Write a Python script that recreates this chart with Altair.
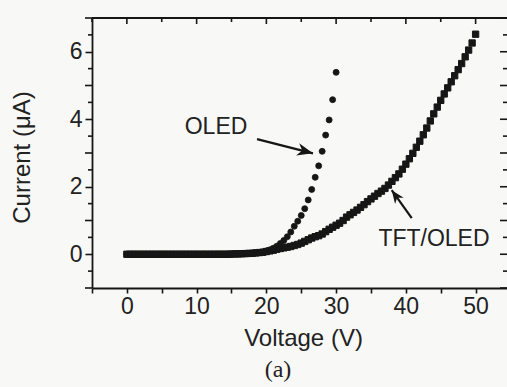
import math
import altair as alt
import pandas as pd

# ---------------- data ----------------
oled_v = [0.0, 0.5, 1.0, 1.5, 2.0, 2.5, 3.0, 3.5, 4.0, 4.5, 5.0, 5.5, 6.0, 6.5, 7.0, 7.5,
          8.0, 8.5, 9.0, 9.5, 10.0, 10.5, 11.0, 11.5, 12.0, 12.5, 13.0, 13.5, 14.0, 14.5,
          15.0, 15.5, 16.0, 16.5, 17.0, 17.5, 18.0, 18.5, 19.0, 19.5, 20.0, 20.5, 21.0,
          21.5, 22.0, 22.5, 23.0, 23.5, 24.0, 24.5, 25.0, 25.5, 26.0, 26.5, 27.0, 27.5,
          28.0, 28.5, 29.0, 29.5, 30.0]
oled_i = [0.0, 0.0, 0.0, 0.0, 0.0, 0.0, 0.0, 0.0, 0.0, 0.0, 0.0, 0.0, 0.0, 0.0, 0.0, 0.0,
          0.0, 0.0, 0.0, 0.0, 0.0, 0.0, 0.0, 0.0, 0.0, 0.0, 0.005, 0.005, 0.005, 0.01,
          0.01, 0.01, 0.01, 0.015, 0.02, 0.02, 0.03, 0.04, 0.05, 0.07, 0.10, 0.13, 0.18,
          0.24, 0.32, 0.41, 0.52, 0.66, 0.83, 0.98, 1.15, 1.35, 1.61, 1.92, 2.28, 2.62,
          3.05, 3.53, 3.98, 4.58, 5.39]

tft_v = [0.0, 0.5, 1.0, 1.5, 2.0, 2.5, 3.0, 3.5, 4.0, 4.5, 5.0, 5.5, 6.0, 6.5, 7.0, 7.5,
         8.0, 8.5, 9.0, 9.5, 10.0, 10.5, 11.0, 11.5, 12.0, 12.5, 13.0, 13.5, 14.0, 14.5,
         15.0, 15.5, 16.0, 16.5, 17.0, 17.5, 18.0, 18.5, 19.0, 19.5, 20.0, 20.5, 21.0,
         21.5, 22.0, 22.5, 23.0, 23.5, 24.0, 24.5, 25.0, 25.5, 26.0, 26.5, 27.0, 27.5,
         28.0, 28.5, 29.0, 29.5, 30.0, 30.5, 31.0, 31.5, 32.0, 32.5, 33.0, 33.5, 34.0,
         34.5, 35.0, 35.5, 36.0, 36.5, 37.0, 37.5, 38.0, 38.5, 39.0, 39.5, 40.0, 40.5,
         41.0, 41.5, 42.0, 42.5, 43.0, 43.5, 44.0, 44.5, 45.0, 45.5, 46.0, 46.5, 47.0,
         47.5, 48.0, 48.5, 49.0, 49.5, 50.0]
tft_i = [0.0, 0.0, 0.0, 0.0, 0.0, 0.0, 0.0, 0.0, 0.0, 0.0, 0.0, 0.0, 0.0, 0.0, 0.0, 0.0,
         0.0, 0.0, 0.0, 0.0, 0.0, 0.0, 0.0, 0.0, 0.0, 0.0, 0.0, 0.0, 0.0, 0.0,
         0.005, 0.01, 0.01, 0.015, 0.02, 0.025, 0.03, 0.04, 0.05, 0.06, 0.08, 0.10, 0.12,
         0.15, 0.17, 0.19, 0.21, 0.23, 0.26, 0.29, 0.33, 0.38, 0.43, 0.48, 0.52, 0.55,
         0.60, 0.67, 0.74, 0.80, 0.86, 0.92, 1.00, 1.10, 1.17, 1.24, 1.31, 1.39, 1.47,
         1.56, 1.64, 1.72, 1.80, 1.87, 1.95, 2.05, 2.16, 2.27, 2.38, 2.52, 2.67, 2.83,
         2.99, 3.17, 3.35, 3.54, 3.74, 3.95, 4.16, 4.36, 4.56, 4.75, 4.93, 5.11, 5.29,
         5.47, 5.65, 5.85, 6.05, 6.26, 6.52]

x_tick_values = [-5, 0, 5, 10, 15, 20, 25, 30, 35, 40, 45, 50]
y_label_values = [0, 2, 4, 6]
left_long = [-1, 1, 3, 5, 7]
halves = [-0.5, 0.5, 1.5, 2.5, 3.5, 4.5, 5.5, 6.5]
right_long = [-1, 0, 1, 2, 3, 4, 5, 6, 7]
top_long = [0, 10, 20, 30, 40, 50]
top_short = [-5, 5, 15, 25, 35, 45]

ann_text = ["OLED", "TFT/OLED"]
ann_x = [12.78, 44.03]
ann_y = [3.77, 0.45]

caption_text = ["(a)"]
caption_x = [21.67]
caption_y = [-3.43]

arrow_x0 = [18.66, 40.84]
arrow_y0 = [3.41, 1.07]
arrow_x1 = [26.68, 37.97]
arrow_y1 = [2.99, 1.90]
arrow_size = [1000, 700]

# ---------------- layout / style ----------------
W, H = 415, 270
XDOM = [-5, 54.5]
YDOM = [-1, 7]
INK = "#161616"
FONT = "Liberation Sans"

sx = W / (XDOM[1] - XDOM[0])
sy = H / (YDOM[1] - YDOM[0])
arrow_angle = []
for a, b, c, d in zip(arrow_x0, arrow_y0, arrow_x1, arrow_y1):
    dx = (c - a) * sx
    dy = -(d - b) * sy
    arrow_angle.append(math.degrees(math.atan2(dx, -dy)) % 360)

xs = alt.Scale(domain=XDOM, nice=False, zero=False)
ys = alt.Scale(domain=YDOM, nice=False, zero=False)

x_axis = alt.Axis(
    values=x_tick_values,
    labelExpr="datum.value >= 0 && datum.value % 10 == 0 ? datum.label : ''",
    tickSize=5, tickWidth=1.6, tickColor=INK, domainColor=INK, domainWidth=1.8,
    labelFont=FONT, labelFontSize=23, labelColor="#222", labelPadding=2,
    titleFont=FONT, titleFontSize=24, titleFontWeight="normal", titleColor="#222",
    titleX=211, titleY=57, titleBaseline="alphabetic", titleAlign="center",
    grid=False,
)
y_axis = alt.Axis(
    values=y_label_values,
    tickSize=7, tickWidth=1.6, tickColor=INK, domainColor=INK, domainWidth=1.8,
    labelFont=FONT, labelFontSize=23, labelColor="#222", labelPadding=3,
    titleFont=FONT, titleFontSize=24, titleFontWeight="normal", titleColor="#222",
    titleX=-63, titleY=139, titleAngle=270, titleBaseline="alphabetic",
    titleAlign="center", grid=False,
)


def X(field="x"):
    return alt.X(f"{field}:Q", scale=xs, axis=x_axis, title="Voltage (V)")


def Y(field="y"):
    return alt.Y(f"{field}:Q", scale=ys, axis=y_axis, title="Current (μA)")


oled_df = pd.DataFrame({"x": oled_v, "y": oled_i})
tft_df = pd.DataFrame({"x": tft_v, "y": tft_i})

tft = alt.Chart(tft_df).mark_point(shape="square", filled=True, size=40, color=INK,
                                     stroke=INK, strokeWidth=1, opacity=1).encode(x=X(), y=Y())
oled = alt.Chart(oled_df).mark_point(shape="circle", filled=True, size=36, color=INK,
                                      stroke=INK, strokeWidth=0.8, opacity=1).encode(x=X(), y=Y())

# frame decorations: top border, inward top/right ticks, outward minor left ticks
top_border = alt.Chart(pd.DataFrame({"k": [0]})).mark_rule(color=INK, strokeWidth=1.8).encode(
    x=alt.value(0), x2=alt.value(W), y=alt.value(0))

left_long_r = alt.Chart(pd.DataFrame({"y": left_long})).mark_rule(color=INK, strokeWidth=1.6).encode(
    x=alt.value(-7), x2=alt.value(0), y=Y())
left_short_r = alt.Chart(pd.DataFrame({"y": halves})).mark_rule(color=INK, strokeWidth=1.6).encode(
    x=alt.value(-4), x2=alt.value(0), y=Y())
right_long_r = alt.Chart(pd.DataFrame({"y": right_long})).mark_rule(color=INK, strokeWidth=1.6).encode(
    x=alt.value(W - 7), x2=alt.value(W), y=Y())
right_short_r = alt.Chart(pd.DataFrame({"y": halves})).mark_rule(color=INK, strokeWidth=1.6).encode(
    x=alt.value(W - 4), x2=alt.value(W), y=Y())
top_long_r = alt.Chart(pd.DataFrame({"x": top_long})).mark_rule(color=INK, strokeWidth=1.6).encode(
    x=X(), y=alt.value(0), y2=alt.value(6))
top_short_r = alt.Chart(pd.DataFrame({"x": top_short})).mark_rule(color=INK, strokeWidth=1.6).encode(
    x=X(), y=alt.value(0), y2=alt.value(4))

ann_df = pd.DataFrame({"x": ann_x, "y": ann_y, "t": ann_text})
ann = alt.Chart(ann_df).mark_text(font=FONT, fontSize=23, color="#222", align="center",
                                  baseline="middle").encode(x=X(), y=Y(), text="t:N")

cap_df = pd.DataFrame({"x": caption_x, "y": caption_y, "t": caption_text})
cap = alt.Chart(cap_df).mark_text(font="Liberation Serif", fontSize=24, color="#222",
                                  align="center", baseline="middle").encode(
    x=X(), y=Y(), text="t:N")

arr_df = pd.DataFrame({"x": arrow_x0, "y": arrow_y0, "x2": arrow_x1, "y2": arrow_y1,
                       "a": arrow_angle, "s": arrow_size})
shafts = alt.Chart(arr_df).mark_rule(color=INK, strokeWidth=2.2).encode(
    x=X(), y=Y(), x2="x2:Q", y2="y2:Q")
heads = alt.Chart(arr_df).mark_point(
    shape="M0,0 L-0.4,1 L0,0.7 L0.4,1 Z", filled=True, color=INK, opacity=1
).encode(
    x=X("x2"), y=Y("y2"),
    angle=alt.Angle("a:Q", scale=None),
    size=alt.Size("s:Q", scale=None, legend=None),
)

chart = alt.layer(
    top_border, top_long_r, top_short_r, left_long_r, left_short_r, right_long_r,
    right_short_r, tft, oled, shafts, heads, ann, cap,
).properties(
    width=W, height=H,
    padding={"left": 92, "top": 18, "right": 0, "bottom": 99},
    autosize=alt.AutoSizeParams(type="none"),
    background="#f8f8f6",
).configure_view(stroke=None)

chart.save("out.html", embed_options={"renderer": "svg", "actions": False})
